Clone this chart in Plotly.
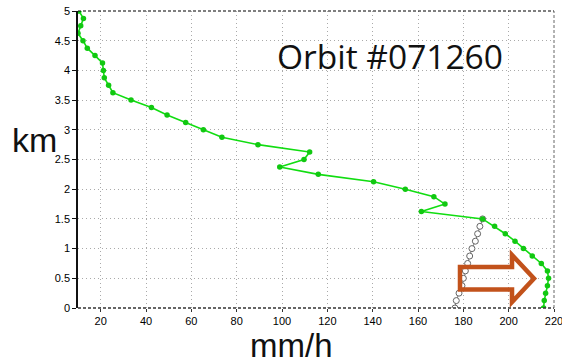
import plotly.graph_objects as go

# ---- data ----
heights_km = [5.0, 4.875, 4.75, 4.625, 4.5, 4.375, 4.25, 4.125, 4.0, 3.875, 3.75, 3.625,
              3.5, 3.375, 3.25, 3.125, 3.0, 2.875, 2.75, 2.625, 2.5, 2.375, 2.25, 2.125,
              2.0, 1.875, 1.75, 1.625, 1.5, 1.375, 1.25, 1.125, 1.0, 0.875, 0.75, 0.625,
              0.5, 0.375, 0.25, 0.125, 0.0]
rain_green = [10.4, 12.4, 11.2, 10.0, 12.2, 14.1, 17.5, 20.8, 21.2, 21.6, 23.5, 25.4,
              33.4, 42.4, 49.3, 57.5, 65.3, 73.5, 89.4, 112.2, 109.7, 99.0, 116.0, 140.4,
              154.4, 167.0, 171.9, 161.5, 188.5, 193.8, 198.5, 202.8, 206.5, 210.4, 214.4, 217.1,
              217.6, 217.1, 216.3, 215.7, 215.4]
heights_low_km = [1.5, 1.375, 1.25, 1.125, 1.0, 0.875, 0.75, 0.625, 0.5, 0.375, 0.25, 0.125, 0.0]
rain_grey = [188.5, 187.3, 186.3, 185.3, 183.8, 182.8, 181.9, 180.9, 180.0, 179.4, 178.1, 176.9, 176.3]

x_ticks = [20, 40, 60, 80, 100, 120, 140, 160, 180, 200, 220]
y_ticks = [0, 0.5, 1, 1.5, 2, 2.5, 3, 3.5, 4, 4.5, 5]
y_tick_labels = ["0", "0.5", "1", "1.5", "2", "2.5", "3", "3.5", "4", "4.5", "5"]
title_text = "Orbit #071260"
x_label = "mm/h"
y_label = "km"

# ---- layout geometry (pixels) ----
W, H = 562, 364
ML, MR, MT, MB = 78, 8, 11, 56
PW, PH = W - ML - MR, H - MT - MB


def px(x):
    return (x - ML) / PW


def py(y):
    return (H - MB - y) / PH


fig = go.Figure()
fig.add_trace(go.Scatter(
    x=rain_grey, y=heights_low_km, mode="lines+markers",
    line=dict(color="#777777", width=1),
    marker=dict(symbol="circle", size=6, color="white", line=dict(color="#666666", width=1)),
    showlegend=False, hoverinfo="skip"))
fig.add_trace(go.Scatter(
    x=rain_green, y=heights_km, mode="lines+markers",
    line=dict(color="#11DD11", width=1.6),
    marker=dict(symbol="circle", size=5.5, color="#11C811"),
    showlegend=False))

orange = "#C2521B"
arrow = [(460, 267), (512, 267), (512, 255), (534, 278.5), (512, 302), (512, 289.5), (460, 289.5)]
path = "M " + " L ".join(f"{px(a):.4f},{py(b):.4f}" for a, b in arrow) + " Z"

shapes = [
    dict(type="line", xref="paper", yref="paper", x0=0, x1=1, y0=1, y1=1,
         line=dict(color="#000000", width=1.2, dash="3px,2px")),
    dict(type="line", xref="paper", yref="paper", x0=0, x1=1, y0=0, y1=0,
         line=dict(color="#333333", width=1.3, dash="3px,2px")),
    dict(type="line", xref="paper", yref="paper", x0=1, x1=1, y0=0, y1=1,
         line=dict(color="#666666", width=1, dash="3px,2px")),
    dict(type="path", xref="paper", yref="paper", path=path,
         line=dict(color=orange, width=4.5), fillcolor="rgba(0,0,0,0)"),
]

fig.update_layout(
    width=W, height=H,
    margin=dict(l=ML, r=MR, t=MT, b=MB, pad=0, autoexpand=False),
    paper_bgcolor="white", plot_bgcolor="white",
    font=dict(family="Liberation Sans", color="#111111"),
    shapes=shapes,
    annotations=[
        dict(text=title_text, xref="paper", yref="paper", x=px(390), y=py(56),
             xanchor="center", yanchor="middle", showarrow=False,
             font=dict(family="Open Sans", size=33.5, color="#111111")),
        dict(text=y_label, xref="paper", yref="paper", x=px(34), y=py(140),
             xanchor="center", yanchor="middle", showarrow=False,
             font=dict(family="Liberation Sans", size=34, color="#111111")),
        dict(text=x_label, xref="paper", yref="paper", x=px(291), y=py(345.5),
             xanchor="center", yanchor="middle", showarrow=False,
             font=dict(family="Liberation Sans", size=33, color="#111111")),
    ],
    xaxis=dict(range=[10, 220], tickvals=x_ticks, ticks="outside", ticklen=3,
               tickcolor="#333333", tickfont=dict(size=11, color="#000000"),
               ticklabeloverflow="allow", automargin=False,
               showgrid=True, gridcolor="#AAAAAA", griddash="1px,3px", gridwidth=1,
               zeroline=False, showline=False),
    yaxis=dict(range=[0, 5], tickvals=y_ticks, ticktext=y_tick_labels, ticks="outside",
               ticklen=4, tickcolor="#111111", tickfont=dict(size=11, color="#000000"),
               automargin=False,
               showgrid=True, gridcolor="#AAAAAA", griddash="1px,3px", gridwidth=1,
               zeroline=False, showline=True, linecolor="#111111", linewidth=1.5),
)

fig.write_html("out.html", config={"displayModeBar": False},
               post_script="document.body.style.margin='0';document.body.style.padding='0';")
